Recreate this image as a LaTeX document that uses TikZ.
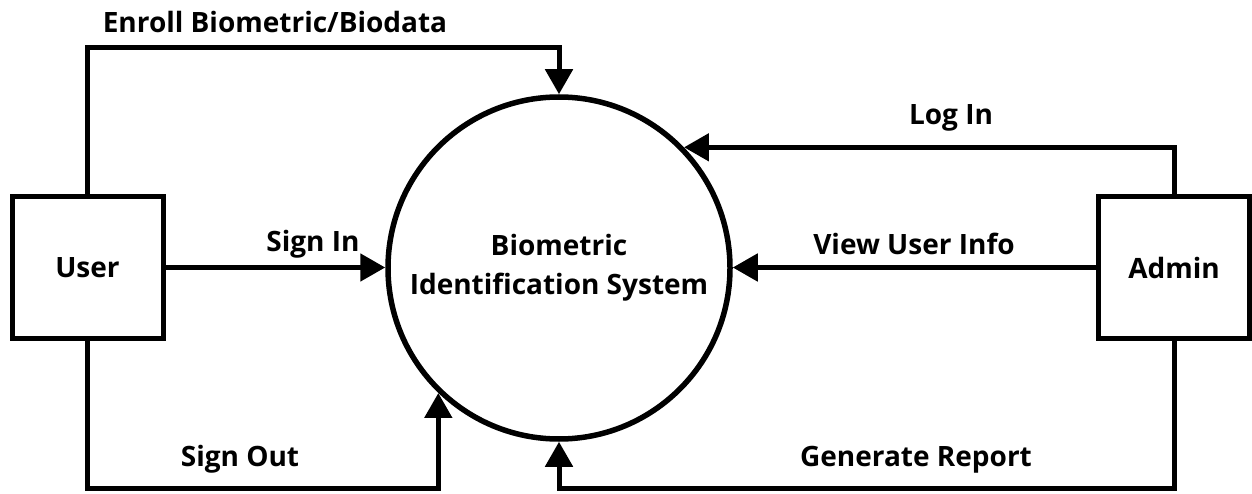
\documentclass[tikz,border=0pt]{standalone}
\usepackage{fontspec}
\setmainfont{Open Sans}
\usetikzlibrary{arrows.meta}
\begin{document}
\begin{tikzpicture}[x=1pt,y=-1pt,
  lbl/.style={font=\fontsize{28}{33}\selectfont\bfseries, inner sep=0pt},
  entity/.style={draw, line width=5pt, minimum width=151pt, minimum height=141pt, inner sep=0pt, font=\fontsize{28}{33}\selectfont\bfseries},
  proc/.style={draw, circle, line width=5.5pt, minimum size=342pt, inner sep=0pt, align=center, font=\fontsize{28}{39}\selectfont\bfseries},
  flow/.style={line width=5pt, -{Triangle[width=27pt,length=25pt]}}]
\useasboundingbox (0,0) rectangle (1252,494);
\node[entity] (user) at (87.5,267.5) {User};
\node[entity] (admin) at (1174,267.5) {Admin};
\node[proc] (sys) at (559,268) {Biometric\\Identification System};
\coordinate (etop) at (0,48);
\coordinate (ebot) at (0,488);
\draw[flow] (user.north) |- (sys.north |- etop) -- (sys.north);
\draw[flow] (user.east) -- (user.east -| sys.west);
\draw[flow] (user.south) |- (sys.226 |- ebot) -- (sys.226);
\draw[flow] (admin.north) |- (sys.44);
\draw[flow] (admin.west) -- (admin.west -| sys.east);
\draw[flow] (admin.south) |- (sys.south |- ebot) -- (sys.south);
\node[lbl] (lenroll) at (275,22) {Enroll Biometric/Biodata};
\node[lbl] (lsignin) at (313,244) {Sign In};
\node[lbl] (lsignout) at (240,459) {Sign Out};
\node[lbl] (llogin) at (951,118) {Log In};
\node[lbl] (lview) at (914,244) {View User Info};
\node[lbl] (lreport) at (916,460) {Generate Report};
\end{tikzpicture}
\end{document}
